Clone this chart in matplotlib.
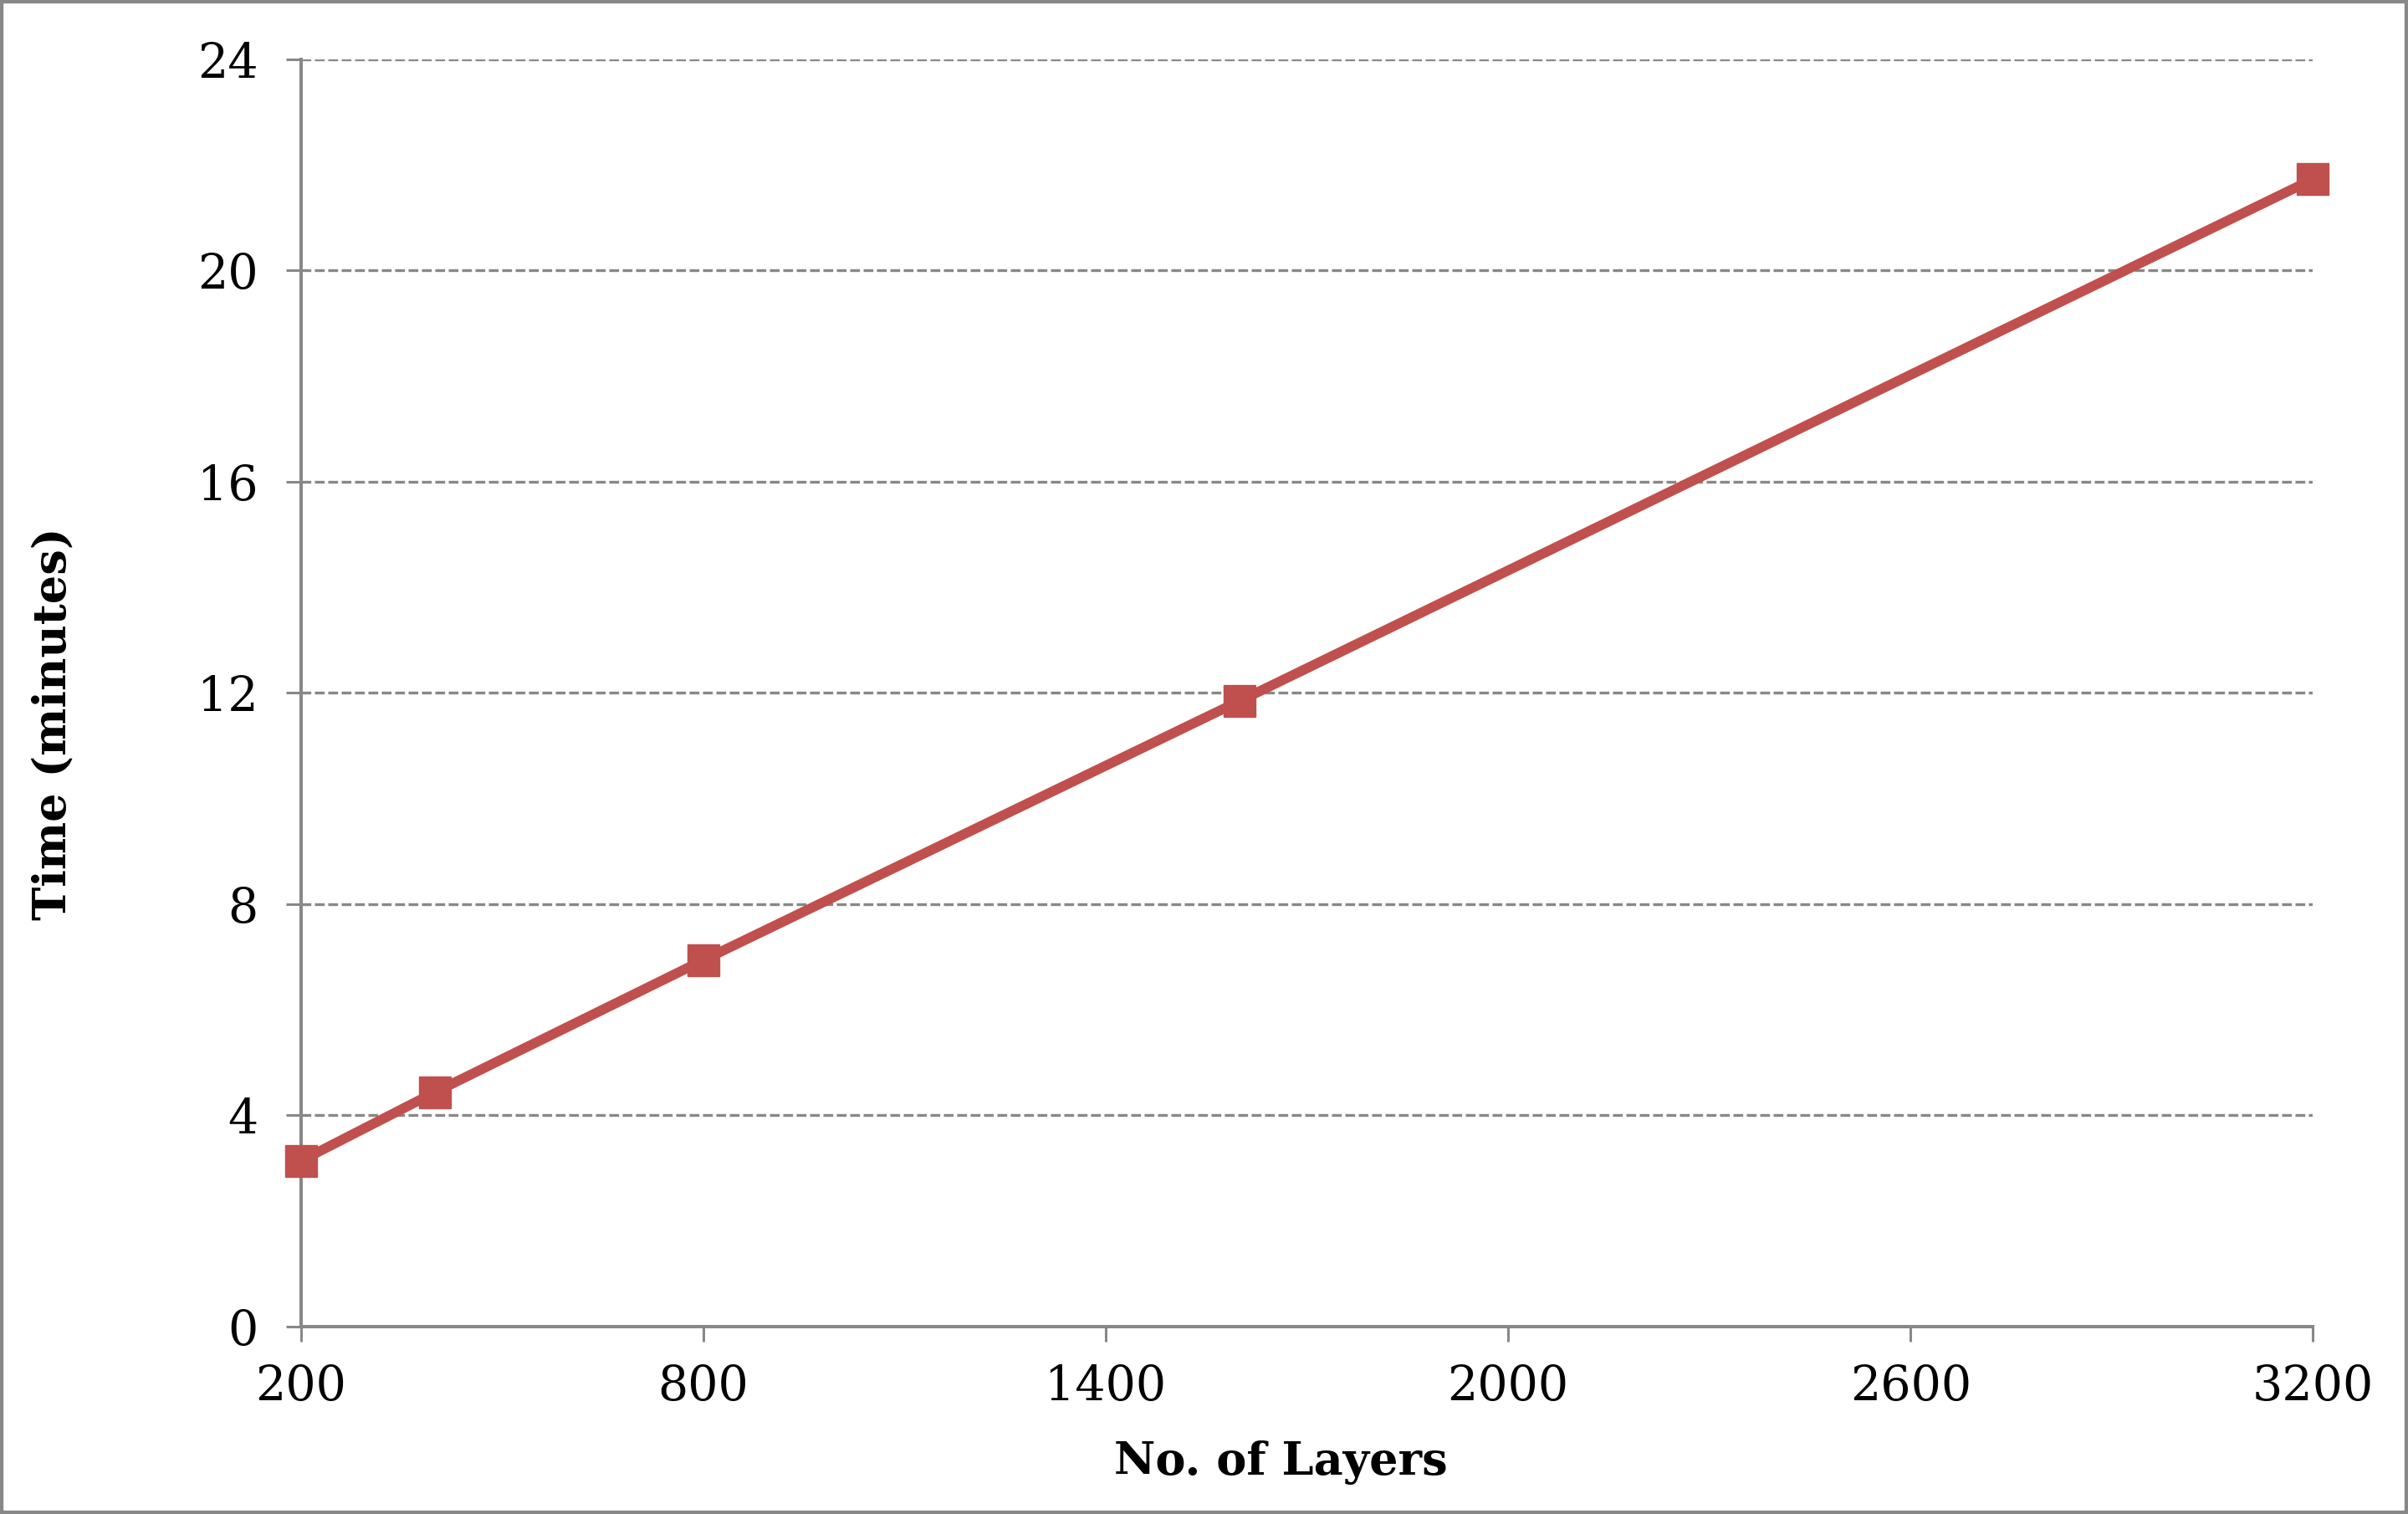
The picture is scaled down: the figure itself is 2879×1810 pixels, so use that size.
import numpy as np
import matplotlib.pyplot as plt
from matplotlib.patches import Rectangle

# data
layers = [200, 400, 800, 1600, 3200]
time_min = [3.14, 4.44, 6.94, 11.85, 21.73]

xticks = [200, 800, 1400, 2000, 2600, 3200]
yticks = [0, 4, 8, 12, 16, 20, 24]

grey = '#888888'
red = '#C0504D'

plt.rcParams['font.family'] = 'DejaVu Serif'

fig = plt.figure(figsize=(28.79, 18.10), dpi=100)
ax = fig.add_axes([0.125, 0.1238, 0.8355, 0.837])

ax.plot(layers, time_min, color=red, lw=8.5, marker='s', ms=27,
        markerfacecolor=red, markeredgecolor=red, zorder=3, clip_on=False)

ax.set_xlim(200, 3200)
ax.set_ylim(0, 24)
ax.set_xticks(xticks)
ax.set_yticks(yticks)

ax.yaxis.grid(True, color=grey, lw=2.4, linestyle=(0, (3.5, 1.3)))
ax.set_axisbelow(True)

for s in ['top', 'right']:
    ax.spines[s].set_visible(False)
for s in ['left', 'bottom']:
    ax.spines[s].set_color(grey)
    ax.spines[s].set_linewidth(2.9)

ax.tick_params(axis='both', colors=grey, width=2.2, length=13, direction='out',
               labelcolor='black', labelsize=41)
ax.tick_params(axis='y', pad=24)
ax.tick_params(axis='x', pad=19)

ax.set_xlabel('No. of Layers', fontsize=39, fontweight='bold', va='center')
ax.set_ylabel('Time (minutes)', fontsize=39, fontweight='bold', va='center')
ax.xaxis.set_label_coords(0.487, -0.107)
ax.yaxis.set_label_coords(-0.123, 0.476)

# outer frame like the exported chart area
fig.patches.append(Rectangle((0, 0), 1, 1, transform=fig.transFigure, fill=False,
                             edgecolor=grey, lw=6))

fig.savefig('out.png', dpi=100)
